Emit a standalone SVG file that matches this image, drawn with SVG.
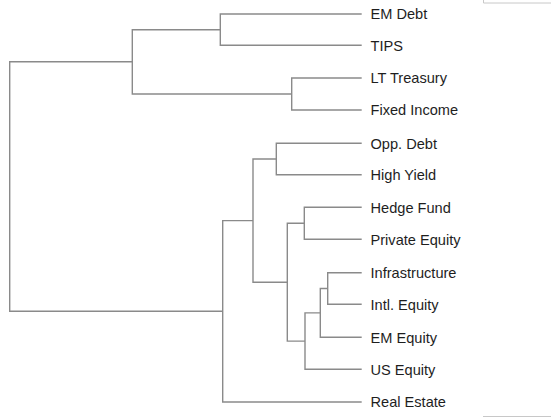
<svg xmlns="http://www.w3.org/2000/svg" width="551" height="418" viewBox="0 0 551 418">
<style>
.c{fill:none;stroke:#8a8a8a;stroke-width:1.4}
.b{fill:none;stroke:#c8c8c8;stroke-width:1}
.t{font-family:"Liberation Sans",Arial,sans-serif;font-size:14.6px;fill:#1e1e1e}
</style>
<rect width="551" height="418" fill="#fff"/>
<g id="frame">
<path class="b" d="M483.5 0V3H551M483 416.5H551"/>
</g>
<g id="connectors">
<path class="c" d="M361.7 14H220.3V45.3H361.7"/>
<path class="c" d="M361.7 78H291.7V110H361.7"/>
<path class="c" d="M220.3 29.7H132.3V94H291.7"/>
<path class="c" d="M361.7 143.3H276.3V174.7H361.7"/>
<path class="c" d="M361.7 207.3H304.3V239.3H361.7"/>
<path class="c" d="M361.7 272.7H327.7V304.3H361.7"/>
<path class="c" d="M327.7 288.5H320.3V337.3H361.7"/>
<path class="c" d="M320.3 312.9H305V369.3H361.7"/>
<path class="c" d="M304.3 223.3H287.3V341.1H305"/>
<path class="c" d="M276.3 159H253V282.2H287.3"/>
<path class="c" d="M253 220.6H222.7V402H361.7"/>
<path class="c" d="M132.3 61.8H9.7V311.3H222.7"/>
</g>
<g id="n-em-debt"><text class="t" x="370.5" y="19.3">EM Debt</text></g>
<g id="n-tips"><text class="t" x="370.5" y="50.6">TIPS</text></g>
<g id="n-lt-treasury"><text class="t" x="370.5" y="83.3">LT Treasury</text></g>
<g id="n-fixed-income"><text class="t" x="370.5" y="115.3">Fixed Income</text></g>
<g id="n-opp-debt"><text class="t" x="370.5" y="148.6">Opp. Debt</text></g>
<g id="n-high-yield"><text class="t" x="370.5" y="180">High Yield</text></g>
<g id="n-hedge-fund"><text class="t" x="370.5" y="212.6">Hedge Fund</text></g>
<g id="n-private-equity"><text class="t" x="370.5" y="244.6">Private Equity</text></g>
<g id="n-infrastructure"><text class="t" x="370.5" y="278">Infrastructure</text></g>
<g id="n-intl-equity"><text class="t" x="370.5" y="309.6">Intl. Equity</text></g>
<g id="n-em-equity"><text class="t" x="370.5" y="342.6">EM Equity</text></g>
<g id="n-us-equity"><text class="t" x="370.5" y="374.6">US Equity</text></g>
<g id="n-real-estate"><text class="t" x="370.5" y="407.3">Real Estate</text></g>
</svg>
